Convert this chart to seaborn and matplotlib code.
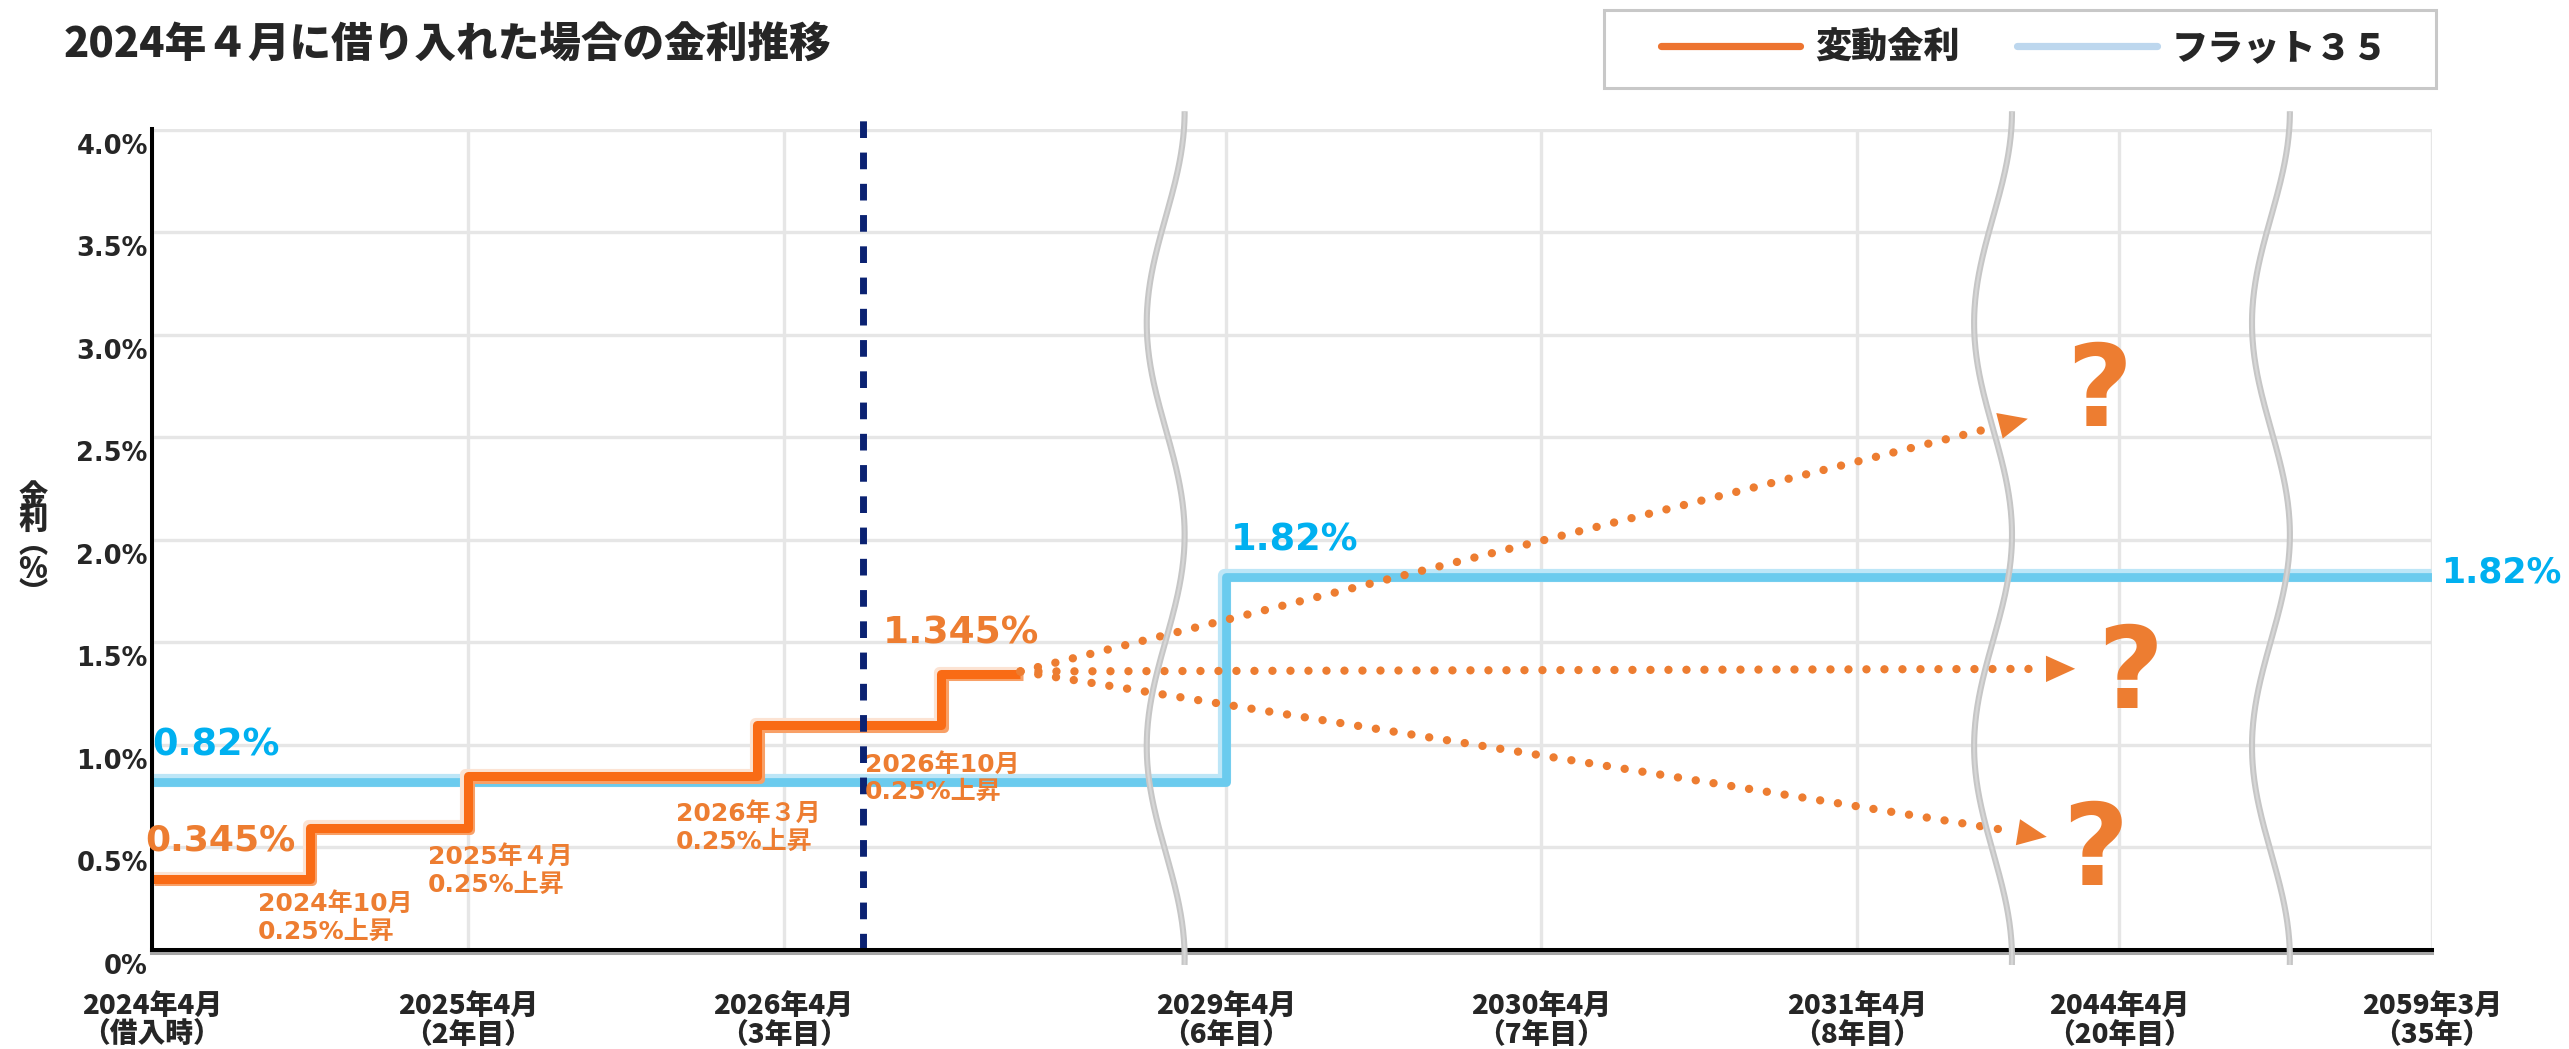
import numpy as np
import pandas as pd
import matplotlib
matplotlib.use("Agg")
import matplotlib.pyplot as plt
import matplotlib.patheffects as pe
import matplotlib.transforms as mtransforms
from matplotlib.lines import Line2D
from matplotlib.patches import Rectangle
import seaborn as sns

# ---------------- data ----------------
title = "2024年４月に借り入れた場合の金利推移"
legend_labels = ["変動金利", "フラット３５"]
y_label = "金\n利\n︵\n%\n︶"

# x axis: months since 2024/4, on a compressed (broken) axis
tick_months = [0, 12, 24, 60, 72, 84, 240, 419]
tick_labels = ["2024年4月\n（借入時）", "2025年4月\n（2年目）", "2026年4月\n（3年目）",
               "2029年4月\n（6年目）", "2030年4月\n（7年目）", "2031年4月\n（8年目）",
               "2044年4月\n（20年目）", "2059年3月\n（35年）"]
axis_months = [0, 12, 24, 36, 60, 72, 84, 240, 419]
axis_pos = [0, 1, 2, 3, 3.4, 4.4, 5.4, 6.23, 7.22]
break_pos = [3.21, 5.83, 6.71]

y_ticks = [0, 0.5, 1.0, 1.5, 2.0, 2.5, 3.0, 3.5, 4.0]
y_tick_labels = ["0%", "0.5%", "1.0%", "1.5%", "2.0%", "2.5%", "3.0%", "3.5%", "4.0%"]

# 変動金利 (variable rate)
var_months = [0, 6, 12, 23, 30, 33]
var_rates = [0.345, 0.595, 0.845, 1.095, 1.345, 1.345]
step_notes = ["2024年10月\n0.25%上昇", "2025年４月\n0.25%上昇",
              "2026年３月\n0.25%上昇", "2026年10月\n0.25%上昇"]

# フラット35 (fixed rate)
flat_months = [0, 60, 419]
flat_rates = [0.82, 1.82, 1.82]

today_month = 27

# future scenarios (arrow tips, on axis positions)
scen_pos = [5.94, 6.09, 6.0]
scen_rates = [2.59, 1.37, 0.55]

# ---------------- style ----------------
ORANGE = "#F96B15"
ORANGE_TXT = "#ED7D31"
BLUE = "#6BCBEE"
BLUE_TXT = "#00B0F0"
NAVY = "#0B2272"
CJK = ["Noto Sans CJK JP", "DejaVu Sans"]
LAT = ["DejaVu Sans", "Noto Sans CJK JP"]

sns.set_theme(style="white")
plt.rcParams["font.family"] = CJK
plt.rcParams["font.weight"] = "bold"

W, H = 2569, 1049
fig = plt.figure(figsize=(W / 100, H / 100), dpi=100)
x0, x1, yt, yb = 152, 2432, 128.7, 949.6
ax = fig.add_axes([x0 / W, 1 - yb / H, (x1 - x0) / W, (yb - yt) / H])


def to_pos(m):
    return np.interp(m, axis_months, axis_pos)


df_flat = pd.DataFrame({"x": to_pos(flat_months), "rate": flat_rates})
df_var = pd.DataFrame({"x": to_pos(var_months), "rate": var_rates})

sns.lineplot(data=df_flat, x="x", y="rate", ax=ax, drawstyle="steps-post",
             color=BLUE, lw=6.3, zorder=3, solid_capstyle="butt",
             path_effects=[pe.SimpleLineShadow(offset=(-0.9, 0.9), shadow_color="#BDE6F7",
                                               alpha=1, linewidth=9.5),
                           pe.Normal()])
sns.lineplot(data=df_var, x="x", y="rate", ax=ax, drawstyle="steps-post",
             color=ORANGE, lw=6.5, zorder=4, solid_capstyle="butt",
             path_effects=[pe.SimpleLineShadow(offset=(-1.7, 1.7), shadow_color="#FCE3D3",
                                               alpha=1, linewidth=8),
                           pe.SimpleLineShadow(offset=(1.7, -1.7), shadow_color="#F8A067",
                                               alpha=1, linewidth=6.5),
                           pe.Normal()])

ax.set_xlim(axis_pos[0], axis_pos[-1])
ax.set_ylim(0, 4.005)
ax.set_xlabel("")
ax.set_ylabel("")

ax.grid(True, color="#E6E6E6", lw=2.4)
ax.set_axisbelow(True)
for s in ["top", "right"]:
    ax.spines[s].set_visible(False)
for s in ["left", "bottom"]:
    ax.spines[s].set_color("black")
    ax.spines[s].set_linewidth(2.9)
    ax.spines[s].set_zorder(5)
ax.spines["bottom"].set_path_effects([pe.SimpleLineShadow(offset=(0, -2.2), shadow_color="#A6A6A6", alpha=1),
                                      pe.Normal()])

ax.set_xticks(to_pos(tick_months))
ax.set_xticklabels(tick_labels, fontsize=20, fontweight="heavy", linespacing=1.05,
                   family=CJK)
ax.set_yticks(y_ticks)
ax.set_yticklabels(y_tick_labels, fontsize=18.5, fontweight="bold", family=LAT)
ax.tick_params(axis="both", length=0)
ax.tick_params(axis="x", pad=30)
ax.tick_params(axis="y", pad=3)
off = mtransforms.ScaledTranslation(0, -14 / 100, fig.dpi_scale_trans)
for lbl in ax.get_yticklabels():
    lbl.set_transform(lbl.get_transform() + off)

# today line
ax.axvline(to_pos(today_month), ymin=0, ymax=1.013, color=NAVY, lw=5,
           ls=(0, (2.4, 2.1)), zorder=5, clip_on=False)

# step annotations (offsets relative to each step point)
note_dx = [-0.164, -0.126, -0.257, -0.242]
note_dy = [-0.44, -0.46, -0.50, -0.51]
sx = to_pos(var_months)
for i, txt in enumerate(step_notes):
    ax.text(sx[i + 1] + note_dx[i], var_rates[i + 1] + note_dy[i], txt,
            color=ORANGE_TXT, fontsize=18, fontweight="bold", family=LAT,
            ha="left", va="center", linespacing=1.2, zorder=6)

# value labels
ax.text(sx[0] - 0.02, var_rates[0] + 0.185, f"{var_rates[0]}%", color=ORANGE_TXT,
        fontsize=26, fontweight="bold", family=LAT, ha="left", va="center", zorder=6,
        clip_on=False)
ax.text(sx[4] - 0.185, var_rates[4] + 0.195, f"{var_rates[4]}%", color=ORANGE_TXT,
        fontsize=27, fontweight="bold", family=LAT, ha="left", va="center", zorder=6)
fx = to_pos(flat_months)
ax.text(fx[0], flat_rates[0] + 0.18, f"{flat_rates[0]}%", color=BLUE_TXT,
        fontsize=26.5, fontweight="bold", family=LAT, ha="left", va="center", zorder=6)
ax.text(fx[1] + 0.015, flat_rates[1] + 0.18, f"{flat_rates[1]}%", color=BLUE_TXT,
        fontsize=26.5, fontweight="bold", family=LAT, ha="left", va="center", zorder=6)
ax.text(fx[2] + 0.03, flat_rates[2] + 0.02, f"{flat_rates[2]}%", color=BLUE_TXT,
        fontsize=25, fontweight="bold", family=LAT, ha="left", va="center", zorder=6,
        clip_on=False)

# scenario dotted arrows
start = np.array([sx[-1], var_rates[-1] + 0.012])
fig.canvas.draw()
p0 = ax.transData.transform(start)
for ex, ey in zip(scen_pos, scen_rates):
    p1 = ax.transData.transform((ex, ey))
    d = (p1 - p0) / np.linalg.norm(p1 - p0)
    line_end = ax.transData.inverted().transform(p1 - d * 34)
    tail = ax.transData.inverted().transform(p1 - d * 40)
    ax.plot([start[0], line_end[0]], [start[1], line_end[1]], color=ORANGE_TXT, lw=6,
            ls=(0, (0.01, 2.15)), dash_capstyle="round", zorder=5)
    ax.annotate("", xy=(ex, ey), xytext=tail,
                arrowprops=dict(arrowstyle="-|>,head_length=0.42,head_width=0.19",
                                color=ORANGE_TXT, lw=0, shrinkA=0, shrinkB=0,
                                mutation_scale=50), zorder=5)

# question marks
q_pos = [(6.165, 2.71), (6.265, 1.33), (6.155, 0.47)]
for qx, qy in q_pos:
    ax.text(qx, qy, "?", color=ORANGE_TXT, fontsize=82, fontweight="bold",
            family=["DejaVu Sans"], ha="center", va="center", zorder=6)

# axis break marks
v = np.linspace(-0.075, 4.09, 400)
for c in break_pos:
    xw = c + 0.060 * np.cos(2 * np.pi * (4.09 - v) / 2.066)
    ax.plot(xw, v, color="#C6C6C6", lw=4.4, zorder=7, clip_on=False,
            solid_capstyle="butt")
    ax.plot(xw, v, color="#D6D6D6", lw=1.6, zorder=7, clip_on=False,
            solid_capstyle="butt")

# title & y label
fig.text(64 / W, 1 - 46 / H, title, fontsize=30, fontweight="black", family=CJK,
         ha="left", va="center")
fig.text(33 / W, 1 - 545 / H, y_label, fontsize=21, fontweight="heavy", family=CJK,
         ha="center", va="center", linespacing=0.78)

# legend
handles = [Line2D([0], [0], color="#ED7430", lw=5.2),
           Line2D([0], [0], color="#BDD7EE", lw=5.2)]
fig.legend(handles, legend_labels, loc="center left",
           bbox_to_anchor=(1661 / W, 1 - 48 / H), ncol=2, frameon=False,
           handlelength=3.85, handletextpad=0.42, columnspacing=1.6,
           borderpad=0, borderaxespad=0,
           prop={"family": CJK, "weight": "heavy", "size": 26})
fig.add_artist(Rectangle((1604 / W, 1 - 88 / H), (2436 - 1604) / W, 78 / H,
                         transform=fig.transFigure, fill=False,
                         edgecolor="#C8C8C8", lw=2.2))

fig.savefig("out.png", dpi=100)
